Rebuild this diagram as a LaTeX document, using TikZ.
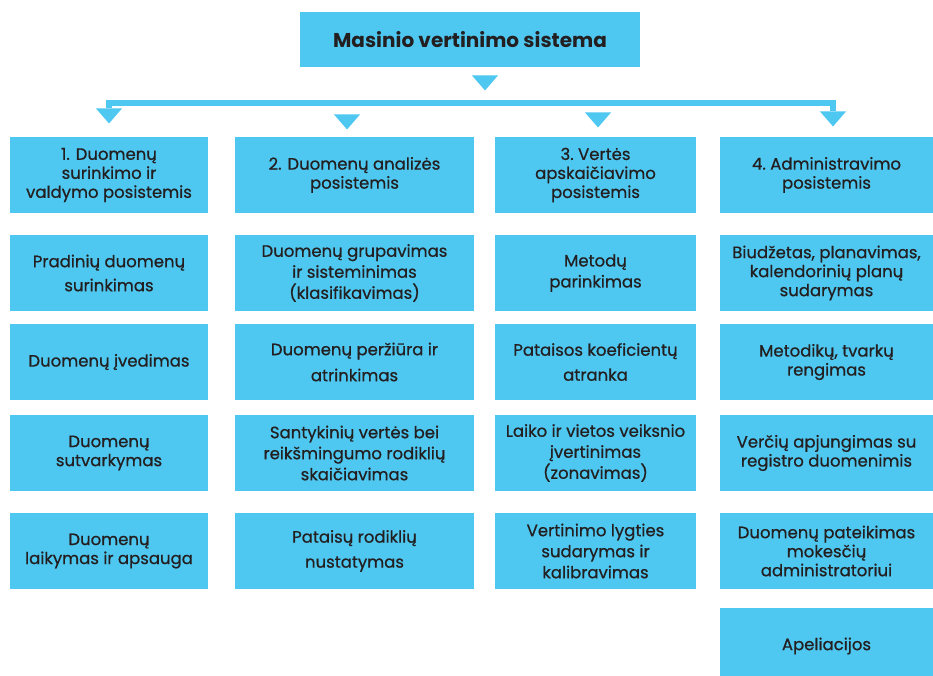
\documentclass[tikz,border=0pt]{standalone}
\usepackage{fontspec}
\setmainfont{Poppins}
\newfontfamily\medfont{Poppins}[FakeBold=0.7]
\usetikzlibrary{positioning,shapes.geometric}
\definecolor{boxblue}{HTML}{4FC8F1}
\definecolor{ink}{HTML}{231F20}
\tikzset{
	block/.style={rectangle, fill=boxblue, text=ink, align=center, inner sep=2pt, minimum height=76pt, font=\medfont\fontsize{16.5}{19}\selectfont},
	colA/.style={block, minimum width=198pt},
	colB/.style={block, minimum width=239pt},
	colC/.style={block, minimum width=201pt},
	colD/.style={block, minimum width=213pt},
	head/.style={rectangle, fill=boxblue, text=ink, minimum width=340pt, minimum height=55pt, font=\fontsize{20}{24}\selectfont\bfseries},
	tip/.style={isosceles triangle, isosceles triangle stretches, shape border rotate=-90, fill=boxblue, inner sep=0pt, minimum width=26pt, minimum height=15pt, anchor=apex},
	bus/.style={draw=boxblue, line width=6pt}
}

\begin{document}
\begin{tikzpicture}[x=1pt, y=-1pt]
			\useasboundingbox (0,0) rectangle (933,675);

			% top box
			\node[head] (system) at (470,39.5) {Masinio vertinimo sistema};

			% subsystems
			\node[colA] (sub1) at (109,175) {1. Duomenų\\surinkimo ir\\valdymo posistemis};
			\node[colB] (sub2) at (354.5,175) {2. Duomenų analizės\\posistemis};
			\node[colC] (sub3) at (595.5,175) {3.\ Vertės\\apskaičiavimo\\posistemis};
			\node[colD] (sub4) at (826.5,175) {4.\ Administravimo\\posistemis};

			% column 1
			\node[colA] (collect) at (109,273) {Pradinių duomenų\\[5pt]surinkimas};
			\node[colA] (entry) at (109,362) {Duomenų įvedimas};
			\node[colA] (tidy) at (109,453) {Duomenų\\sutvarkymas};
			\node[colA] (store) at (109,551) {Duomenų\\laikymas ir apsauga};

			% column 2
			\node[colB] (group) at (354.5,273) {Duomenų grupavimas\\[2pt]ir sisteminimas\\[2pt](klasifikavimas)};
			\node[colB] (review) at (354.5,362) {Duomenų peržiūra ir\\[7pt]atrinkimas};
			\node[colB] (ratio) at (354.5,453) {Santykinių vertės bei\\[2pt]reikšmingumo rodiklių\\[2pt]skaičiavimas};
			\node[colB] (adjust) at (354.5,551) {Pataisų rodiklių\\[6pt]nustatymas};

			% column 3
			\node[colC] (method) at (595.5,273) {Metodų\\[2pt]parinkimas};
			\node[colC] (coef) at (595.5,362) {Pataisos koeficientų\\[6pt]atranka};
			\node[colC] (zone) at (595.5,453) {Laiko ir vietos veiksnio\\[2pt]įvertinimas\\[2pt](zonavimas)};
			\node[colC] (equation) at (595.5,551) {Vertinimo lygties\\[2pt]sudarymas ir\\[2pt]kalibravimas};

			% column 4
			\node[colD] (budget) at (826.5,273) {Biudžetas, planavimas,\\kalendorinių planų\\sudarymas};
			\node[colD] (rules) at (826.5,362) {Metodikų, tvarkų\\rengimas};
			\node[colD] (merge) at (826.5,453) {Verčių apjungimas su\\registro duomenimis};
			\node[colD] (report) at (826.5,551) {Duomenų pateikimas\\mokesčių\\administratoriui};
			\node[colD] (appeal) at (826.5,646) {Apeliacijos};

			% arrow heads
			\node[tip] (arr0) at (485,91) {};
			\node[tip] (arr1) at (109,124) {};
			\node[tip] (arr2) at (347,130) {};
			\node[tip] (arr3) at (598,128) {};
			\node[tip] (arr4) at (833,127) {};

			% branching bar
			\coordinate (fork) at (485,103);
			\draw[bus] (arr1.north) |- (fork) -| (arr4.north);
		\end{tikzpicture}
\end{document}
